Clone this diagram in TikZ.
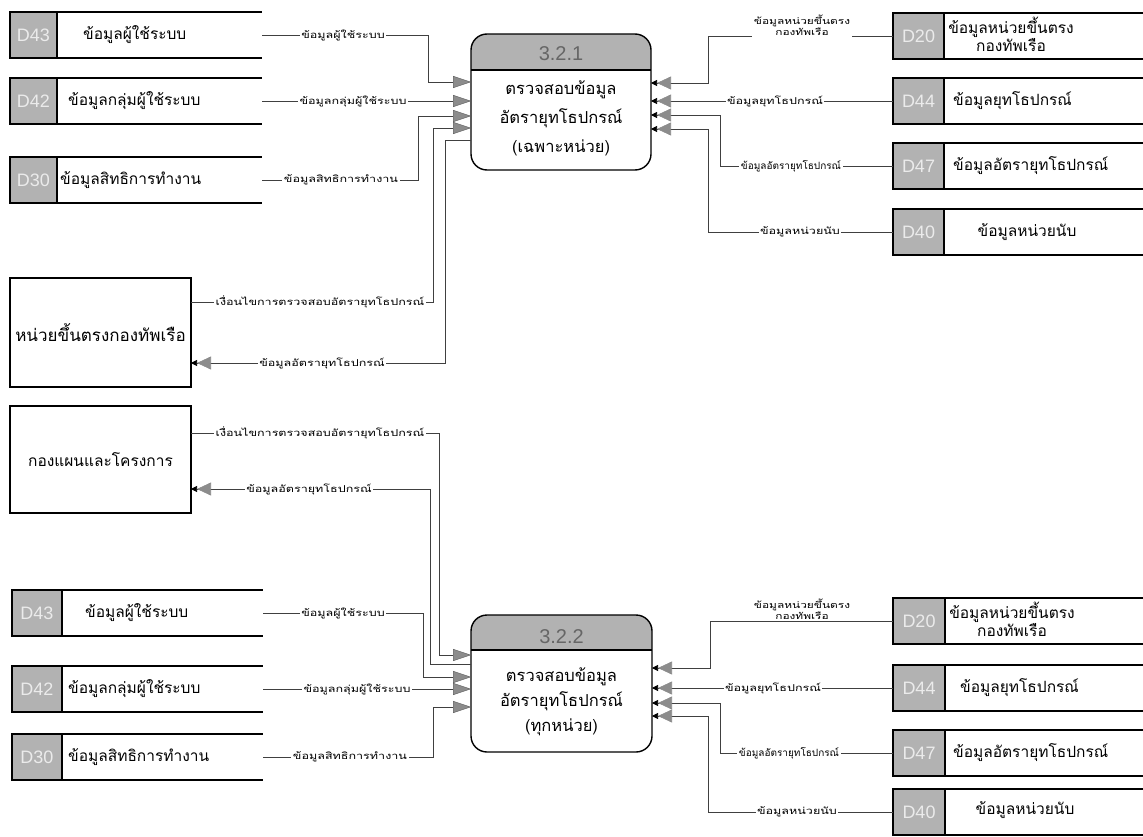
\documentclass[tikz,border=0pt]{standalone}
\usepackage{fontspec}
\setmainfont{Liberation Sans}
\newfontfamily\thai[Script=Thai]{Loma}
\newfontfamily\thaiw[Script=Thai,FakeStretch=1.32]{Loma}
\usetikzlibrary{arrows.meta,calc}

\tikzset{
  idbox/.style={draw=black, line width=1.1pt, fill=black!30, inner sep=0pt, outer sep=0pt,
    minimum height=46pt, text=black!8, font=\fontsize{18}{18}\selectfont},
  bodybox/.style={draw=none, inner sep=0pt, outer sep=0pt, minimum height=46pt},
  storeedge/.style={line width=1.3pt, black},
  stxt/.style={font=\thai\fontsize{15.5}{16}\selectfont, inner sep=0pt, align=center},
  ext/.style={draw=black, line width=1.2pt, fill=white, inner sep=2pt, outer sep=0pt,
    minimum width=181pt, font=\thai\fontsize{16}{18}\selectfont},
  proc/.style={draw=none, inner sep=0pt, outer sep=0pt},
  procedge/.style={line width=1.4pt, rounded corners=16pt},
  ptitle/.style={font=\fontsize{20}{20}\selectfont, text=black!60, inner sep=0pt},
  ptxt/.style={font=\thai\fontsize{16.5}{29}\selectfont, align=center, inner sep=0pt},
  flow/.style={draw=black!75, line width=0.7pt},
  inarr/.style={-{Triangle[length=18pt,width=12pt,fill=black!45,color=black!65,line width=0.4pt]}},
  outarr/.style={-{Triangle[length=14pt,width=13pt,fill=black!45,color=black!45] Triangle[length=6pt,width=6pt,fill=black,color=black]}},
  lbl/.style={fill=white, inner sep=1.5pt, font=\thaiw\fontsize{9.5}{11}\selectfont, align=center},
  lbln/.style={fill=white, inner sep=1.5pt, font=\thai\fontsize{10}{11}\selectfont, align=center},
}

\newcommand{\dstore}[6]{%
  \node[idbox, minimum width={(#4-#3)*1pt}] (#1id) at ({(#3+#4)/2},#6) {#2};
  \node[bodybox, anchor=west, minimum width={(#5-#4)*1pt}] (#1) at (#1id.east) {};
  \draw[storeedge] (#1id.north east) -- (#1.north east) (#1id.south east) -- (#1.south east);
}

\begin{document}
\begin{tikzpicture}[x=1pt,y=-1pt]
\path[use as bounding box, fill=white] (0,0) rectangle (1143,837);

% ---------- data stores ----------
\dstore{TLa}{D43}{10}{57}{262}{35}
\dstore{TLb}{D42}{10}{57}{262}{101}
\dstore{TLc}{D30}{10}{57}{262}{180}
\node[stxt, anchor=west] (TLat) at (83,35) {ข้อมูลผู้ใช้ระบบ};
\node[stxt, anchor=west] (TLbt) at (68,101) {ข้อมูลกลุ่มผู้ใช้ระบบ};
\node[stxt, anchor=west] (TLct) at (60,180) {ข้อมูลสิทธิการทำงาน};

\dstore{BLa}{D43}{12}{62}{263}{613}
\dstore{BLb}{D42}{12}{62}{263}{689}
\dstore{BLc}{D30}{12}{62}{263}{757}
\node[stxt, anchor=west] (BLat) at (85,613) {ข้อมูลผู้ใช้ระบบ};
\node[stxt, anchor=west] (BLbt) at (68,689) {ข้อมูลกลุ่มผู้ใช้ระบบ};
\node[stxt, anchor=west] (BLct) at (68,757) {ข้อมูลสิทธิการทำงาน};

\dstore{TRa}{D20}{893}{944}{1143}{36}
\dstore{TRb}{D44}{893}{944}{1143}{101}
\dstore{TRc}{D47}{893}{944}{1143}{166}
\dstore{TRd}{D40}{893}{944}{1143}{232}
\node[stxt] (TRat) at (1011,34) {ข้อมูลหน่วยขึ้นตรง\\กองทัพเรือ};
\node[stxt, anchor=west] (TRbt) at (953,101) {ข้อมูลยุทโธปกรณ์};
\node[stxt, anchor=west] (TRct) at (953,166) {ข้อมูลอัตรายุทโธปกรณ์};
\node[stxt] (TRdt) at (1027,232) {ข้อมูลหน่วยนับ};

\dstore{BRa}{D20}{893}{945}{1143}{621}
\dstore{BRb}{D44}{893}{945}{1143}{688}
\dstore{BRc}{D47}{893}{945}{1143}{753}
\dstore{BRd}{D40}{893}{945}{1143}{812}
\node[stxt] (BRat) at (1012,619) {ข้อมูลหน่วยขึ้นตรง\\กองทัพเรือ};
\node[stxt, anchor=west] (BRbt) at (960,688) {ข้อมูลยุทโธปกรณ์};
\node[stxt, anchor=west] (BRct) at (953,753) {ข้อมูลอัตรายุทโธปกรณ์};
\node[stxt] (BRdt) at (1025,810) {ข้อมูลหน่วยนับ};

% ---------- external entities ----------
\node[ext, minimum height=109pt, font=\thai\fontsize{17}{18}\selectfont] (E1) at (100.5,332.5) {หน่วยขึ้นตรงกองทัพเรือ};
\node[ext, minimum height=107pt, font=\thai\fontsize{15.5}{18}\selectfont] (E2) at (100.5,459.5) {กองแผนและโครงการ};

% ---------- processes ----------
\node[proc, minimum width=180pt, minimum height=136pt] (P1) at (561,102) {};
\begin{scope}
  \clip[rounded corners=16pt] (P1.north west) rectangle (P1.south east);
  \fill[black!30] (P1.north west) rectangle ($(P1.north east)+(0,36)$);
\end{scope}
\draw[line width=1.2pt] ($(P1.north west)+(0,36)$) -- ($(P1.north east)+(0,36)$);
\draw[procedge] (P1.north west) rectangle (P1.south east);
\node[ptitle] (P1n) at (561,54) {3.2.1};
\node[ptxt] (P1t) at (561,118) {ตรวจสอบข้อมูล\\อัตรายุทโธปกรณ์\\(เฉพาะหน่วย)};

\node[proc, minimum width=181pt, minimum height=137pt] (P2) at (561.5,683.5) {};
\begin{scope}
  \clip[rounded corners=16pt] (P2.north west) rectangle (P2.south east);
  \fill[black!30] (P2.north west) rectangle ($(P2.north east)+(0,35)$);
\end{scope}
\draw[line width=1.2pt] ($(P2.north west)+(0,35)$) -- ($(P2.north east)+(0,35)$);
\draw[procedge] (P2.north west) rectangle (P2.south east);
\node[ptitle] (P2n) at (561.5,637) {3.2.2};
\node[ptxt, font=\thai\fontsize{16.5}{25}\selectfont] (P2t) at (561.5,702) {ตรวจสอบข้อมูล\\อัตรายุทโธปกรณ์\\(ทุกหน่วย)};

% ---------- flows: process 3.2.1 ----------
\draw[flow, inarr] (TLa.east) -| (428,82) -- (P1.west |- 0,82);
\draw[flow, inarr] (TLb.east) -- (P1.west |- TLb.east);
\draw[flow, inarr] (TLc.east) -| (418,116) -- (P1.west |- 0,116);
\draw[flow, inarr] (E1.east |- 0,302) -| (433,128) -- (P1.west |- 0,128);
\draw[flow, outarr] (P1.west |- 0,140) -| (445,363) -- (E1.east |- 0,363);

\draw[flow, outarr] (TRaid.west) -| (708,83) -- (P1.east |- 0,83);
\draw[flow, outarr] (TRbid.west) -- (P1.east |- TRbid.west);
\draw[flow, outarr] (TRcid.west) -| (720,115) -- (P1.east |- 0,115);
\draw[flow, outarr] (TRdid.west) -| (708,129) -- (P1.east |- 0,129);

% ---------- flows: process 3.2.2 ----------
\draw[flow, inarr] (E2.east |- 0,433) -| (439,655) -- (P2.west |- 0,655);
\draw[flow, outarr] (P2.west |- 0,664) -| (430,489) -- (E2.east |- 0,489);
\draw[flow, inarr] (BLa.east) -| (423,677) -- (P2.west |- 0,677);
\draw[flow, inarr] (BLb.east) -- (P2.west |- BLb.east);
\draw[flow, inarr] (BLc.east) -| (433,707) -- (P2.west |- 0,707);

\draw[flow, outarr] (BRaid.west) -| (710,668) -- (P2.east |- 0,668);
\draw[flow, outarr] (BRbid.west) -- (P2.east |- BRbid.west);
\draw[flow, outarr] (BRcid.west) -| (720,703) -- (P2.east |- 0,703);
\draw[flow, outarr] (BRdid.west) -| (708,716) -- (P2.east |- 0,716);

% ---------- flow labels ----------
\node[lbl] (L1) at (343,35) {ข้อมูลผู้ใช้ระบบ};
\node[lbl] (L2) at (353,101) {ข้อมูลกลุ่มผู้ใช้ระบบ};
\node[lbl] (L3) at (341,180) {ข้อมูลสิทธิการทำงาน};
\node[lbl] (L4) at (320,302) {เงื่อนไขการตรวจสอบอัตรายุทโธปกรณ์};
\node[lbl] (L5) at (322,363) {ข้อมูลอัตรายุทโธปกรณ์};
\node[lbl] (L6) at (320,433) {เงื่อนไขการตรวจสอบอัตรายุทโธปกรณ์};
\node[lbl] (L7) at (309,489) {ข้อมูลอัตรายุทโธปกรณ์};
\node[lbl] (L8) at (343,613) {ข้อมูลผู้ใช้ระบบ};
\node[lbl] (L9) at (357,689) {ข้อมูลกลุ่มผู้ใช้ระบบ};
\node[lbl] (L10) at (350,757) {ข้อมูลสิทธิการทำงาน};
\node[lbl, font=\thaiw\fontsize{9}{11}\selectfont] (L11) at (802,25) {ข้อมูลหน่วยขึ้นตรง\\กองทัพเรือ};
\node[lbl] (L12) at (775,101) {ข้อมูลยุทโธปกรณ์};
\node[lbln] (L13) at (791,166) {ข้อมูลอัตรายุทโธปกรณ์};
\node[lbl] (L14) at (800,232) {ข้อมูลหน่วยนับ};
\node[lbl, font=\thaiw\fontsize{9}{11}\selectfont] (L15) at (802,609) {ข้อมูลหน่วยขึ้นตรง\\กองทัพเรือ};
\node[lbl] (L16) at (773,688) {ข้อมูลยุทโธปกรณ์};
\node[lbln] (L17) at (789,753) {ข้อมูลอัตรายุทโธปกรณ์};
\node[lbl] (L18) at (797,812) {ข้อมูลหน่วยนับ};
\end{tikzpicture}
\end{document}
